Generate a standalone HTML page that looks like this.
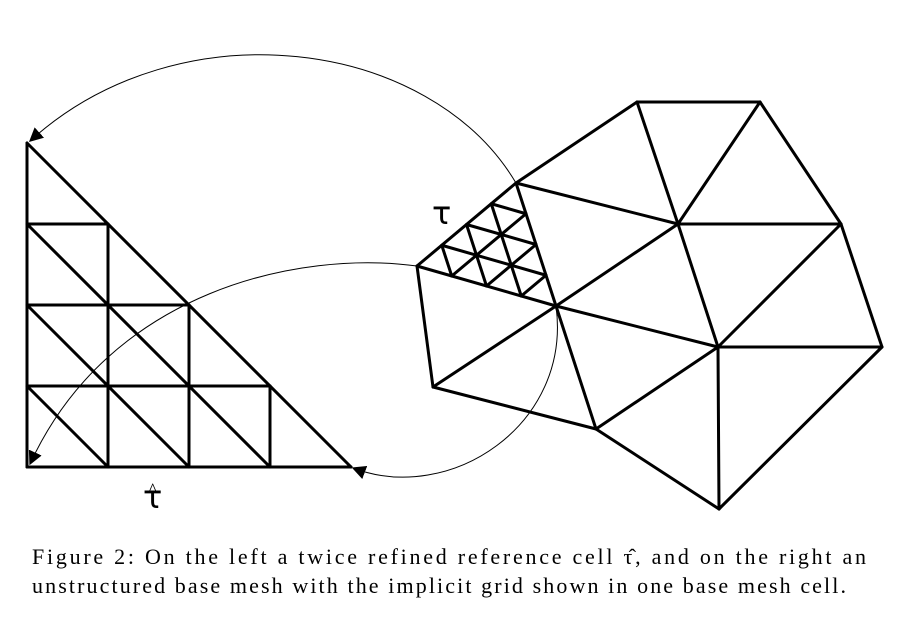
<!DOCTYPE html>
<html><head><meta charset="utf-8"><style>
html,body{margin:0;padding:0;background:#fff;width:899px;height:617px;overflow:hidden}
svg{display:block}
</style></head><body>
<svg width="899" height="617" viewBox="0 0 899 617">
<defs>
<marker id="ah" viewBox="0 0 10 10" refX="9" refY="5" markerWidth="14" markerHeight="14" markerUnits="userSpaceOnUse" orient="auto">
<path d="M0,0 L10,5 L0,10 z" fill="#000"/>
</marker>
</defs>
<g id="ref" stroke="#000" stroke-width="3" fill="none" stroke-linecap="round" stroke-linejoin="round"></g>
<g id="mesh" stroke="#000" stroke-width="3" fill="none" stroke-linecap="round" stroke-linejoin="round"></g>
<g stroke="#000" stroke-width="1" fill="none">
<path d="M516,183 C430,38 180,5 30,141" marker-end="url(#ah)"/>
<path d="M417,266 C300,250 110,290 30,464" marker-end="url(#ah)"/>
<path d="M556,306 C572,425 450,505 353,468" marker-end="url(#ah)"/>
</g>
<text x="143" y="508" font-family="DejaVu Sans, sans-serif" font-size="32">τ</text>
<text x="148" y="497" font-family="Liberation Serif, serif" font-size="20">^</text>
<text x="432" y="224" font-family="DejaVu Sans, sans-serif" font-size="32">τ</text>
<text x="32" y="564" font-family="Liberation Serif, serif" font-size="22" textLength="834" lengthAdjust="spacing">Figure 2:  On the left a twice refined reference cell τ̂, and on the right an</text>
<text x="32" y="593" font-family="Liberation Serif, serif" font-size="22" textLength="814" lengthAdjust="spacing">unstructured base mesh with the implicit grid shown in one base mesh cell.</text>
</svg>
<script>
const NS='http://www.w3.org/2000/svg';
function ln(g,a,b,name){const l=document.createElementNS(NS,'line');
l.setAttribute('x1',a[0]);l.setAttribute('y1',a[1]);l.setAttribute('x2',b[0]);l.setAttribute('y2',b[1]);


g.appendChild(l);}
const ref=document.getElementById('ref');
const ox=27,oy=467,s=81,n=4;
const P=(i,j)=>[ox+i*s,oy-j*s];
ln(ref,P(0,0),P(n,0),'ref-edge');ln(ref,P(0,0),P(0,n),'ref-edge');ln(ref,P(0,n),P(n,0),'ref-edge');
for(let k=1;k<n;k++){
 ln(ref,P(0,k),P(n-k,k),'ref-grid-h');
 ln(ref,P(k,0),P(k,n-k),'ref-grid-v');
 ln(ref,P(0,k),P(k,0),'ref-grid-d');
}
const V={A:[637,102],B:[760,102],C:[516,183],D:[678,224],E:[841,224],F:[417,266],G:[556,306],H:[718,347],I:[882,347],J:[433,387],K:[596,429],L:[719,509]};
const edges=['AB','AC','AD','BD','BE','CD','CF','CG','FG','DG','DE','DH','EH','EI','GH','FJ','JG','JK','GK','KH','KL','HL','HI','IL'];
const mesh=document.getElementById('mesh');
edges.forEach(e=>ln(mesh,V[e[0]],V[e[1]],'mesh-edge'));
const lerp=(a,b,t)=>[a[0]+(b[0]-a[0])*t,a[1]+(b[1]-a[1])*t];
const C=V.C,F=V.F,G=V.G;
for(let k=1;k<4;k++){const t=k/4;
 ln(mesh,lerp(C,F,t),lerp(C,G,t),'fine-grid');
 ln(mesh,lerp(F,C,t),lerp(F,G,t),'fine-grid');
 ln(mesh,lerp(G,C,t),lerp(G,F,t),'fine-grid');
}
</script>
</body></html>
